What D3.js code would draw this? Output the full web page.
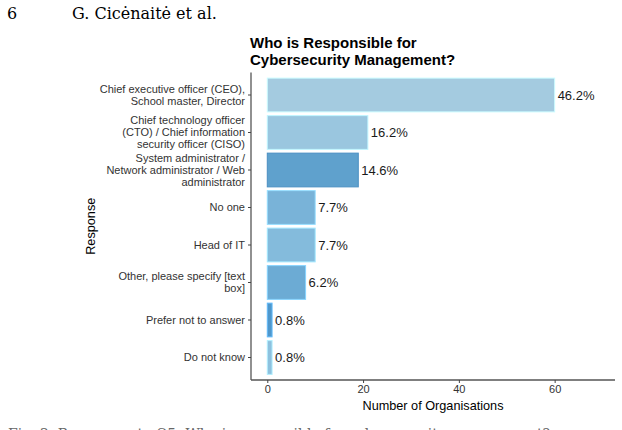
<!DOCTYPE html>
<html>
<head>
<meta charset="utf-8">
<script src="https://cdn.jsdelivr.net/npm/d3@7"></script>
<style>
  body { margin: 0; background: #fff; }
  svg { display: block; }
</style>
</head>
<body>
<div id="chart"></div>
<script>
// responses, top to bottom
const responses = [
    ["Chief executive officer (CEO),", "School master, Director"],
    ["Chief technology officer", "(CTO) / Chief information", "security officer (CISO)"],
    ["System administrator /", "Network administrator / Web", "administrator"],
    ["No one"],
    ["Head of IT"],
    ["Other, please specify [text", "box]"],
    ["Prefer not to answer"],
    ["Do not know"]
];
const counts = [60, 21, 19, 10, 10, 8, 1, 1];
const percentLabels = ["46.2%", "16.2%", "14.6%", "7.7%", "7.7%", "6.2%", "0.8%", "0.8%"];
const barColors = ["#a4cbe0", "#9ac6df", "#5fa1cd", "#79b3d8", "#84bbdc", "#6cabd4", "#4f97cb", "#8ec1de"];
const xTicks = [0, 20, 40, 60];

const width = 622, height = 430;
const panel = { left: 251, right: 615, top: 72.5, bottom: 380 };
const sans = "'Liberation Sans', Arial, sans-serif";
const serif = "'DejaVu Serif', 'Liberation Serif', serif";

const svg = d3.select("#chart")
    .append("svg")
    .attr("width", width)
    .attr("height", height);

// page header
svg.append("text")
    .attr("x", 7).attr("y", 19)
    .style("font-family", serif)
    .style("font-size", "16px")
    .text("6");
svg.append("text")
    .attr("x", 72).attr("y", 19)
    .style("font-family", serif)
    .style("font-size", "16px")
    .text("G. Cicėnaitė et al.");

// title
const title = svg.append("text")
    .style("font-family", sans)
    .style("font-size", "15px")
    .style("font-weight", "bold");
title.append("tspan").attr("x", 250).attr("y", 48).text("Who is Responsible for");
title.append("tspan").attr("x", 250).attr("y", 64.5).text("Cybersecurity Management?");

// scales
const xScale = d3.scaleLinear()
    .domain([-3.4, 72.6])
    .range([panel.left, panel.right]);

const yScale = d3.scaleBand()
    .domain(d3.range(responses.length))
    .range([panel.top, panel.bottom])
    .paddingInner(0.1)
    .paddingOuter(0.15);

// bars
svg.selectAll(".bar")
    .data(counts)
    .enter()
    .append("rect")
    .attr("class", "bar")
    .attr("x", xScale(0))
    .attr("y", (d, i) => yScale(i))
    .attr("width", d => xScale(d) - xScale(0))
    .attr("height", yScale.bandwidth())
    .attr("fill", (d, i) => barColors[i])
    .attr("stroke", (d, i) => i === 2 ? "#4a8fc2" : d3.color(barColors[i]).brighter(0.6))
    .attr("stroke-width", 1);

// value labels
svg.selectAll(".pct")
    .data(counts)
    .enter()
    .append("text")
    .attr("class", "pct")
    .attr("x", d => xScale(d) + 3)
    .attr("y", (d, i) => yScale(i) + yScale.bandwidth() / 2)
    .attr("dy", "0.35em")
    .style("font-family", sans)
    .style("font-size", "13px")
    .style("fill", "#1a1a1a")
    .text((d, i) => percentLabels[i]);

// x axis
const xAxis = svg.append("g")
    .attr("transform", `translate(0,${panel.bottom})`)
    .call(d3.axisBottom(xScale).tickValues(xTicks).tickSize(3).tickPadding(2));
xAxis.select(".domain")
    .attr("d", `M${panel.left},0H${panel.right}`)
    .attr("stroke", "#555")
    .attr("stroke-width", 1.3);
xAxis.selectAll(".tick line").attr("stroke", "#444");
xAxis.selectAll(".tick text")
    .style("font-family", sans)
    .style("font-size", "11px")
    .style("fill", "#333");

// y axis
const yAxis = svg.append("g")
    .attr("transform", `translate(${panel.left},0)`)
    .call(d3.axisLeft(yScale).tickSize(3).tickPadding(3).tickFormat(""));
yAxis.select(".domain")
    .attr("d", `M0,${panel.top}V${panel.bottom}`)
    .attr("stroke", "#555")
    .attr("stroke-width", 1.3);
yAxis.selectAll(".tick line").attr("stroke", "#444");

// multi-line category labels
yAxis.selectAll(".tick").each(function(i) {
    const lines = responses[i];
    const lineH = 12;
    const t = d3.select(this).append("text")
        .attr("text-anchor", "end")
        .style("font-family", sans)
        .style("font-size", "11px")
        .style("fill", "#333");
    lines.forEach((l, k) => {
        t.append("tspan")
            .attr("x", -6)
            .attr("y", (k - (lines.length - 1) / 2) * lineH)
            .attr("dy", "0.35em")
            .text(l);
    });
});

// axis titles
svg.append("text")
    .attr("x", (panel.left + panel.right) / 2)
    .attr("y", 410)
    .attr("text-anchor", "middle")
    .style("font-family", sans)
    .style("font-size", "12.7px")
    .text("Number of Organisations");

svg.append("text")
    .attr("transform", `translate(95,${(panel.top + panel.bottom) / 2}) rotate(-90)`)
    .attr("text-anchor", "middle")
    .style("font-family", sans)
    .style("font-size", "12.7px")
    .text("Response");

// caption, cut off by the page edge as in the source
svg.append("text")
    .attr("x", 8).attr("y", 439)
    .style("font-family", serif)
    .style("font-size", "14px")
    .style("fill", "#666")
    .text("Fig. 2. Responses to Q5: Who is responsible for cybersecurity management?");
</script>
</body>
</html>
